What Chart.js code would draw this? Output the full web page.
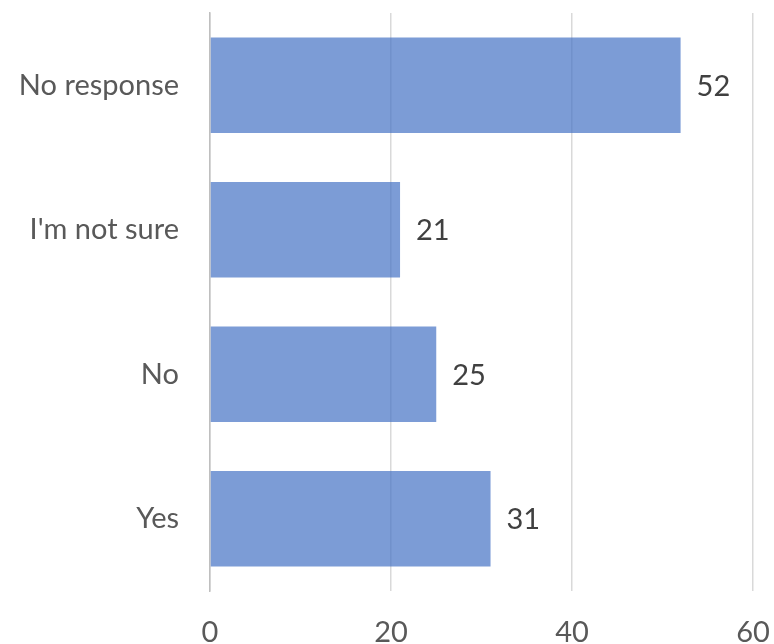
<!DOCTYPE html>
<html>
<head>
<meta charset="utf-8">
<script src="https://cdn.jsdelivr.net/npm/chart.js@4/dist/chart.umd.min.js"></script>
<style>
html,body{margin:0;padding:0;background:#fff;}
#wrap{width:774px;height:644px;position:relative;}
</style>
</head>
<body>
<div id="wrap"><canvas id="c" width="774" height="644"></canvas></div>
<script>
const categories = ["No response", "I'm not sure", "No", "Yes"];
const values = [52, 21, 25, 31];
const xTicks = [0, 20, 40, 60];

const FONT = "Lato, 'Open Sans', sans-serif";

const dataLabels = {
  id: 'dataLabels',
  afterDatasetsDraw(chart) {
    const ctx = chart.ctx;
    const meta = chart.getDatasetMeta(0);
    ctx.save();
    ctx.font = "29px " + FONT;
    ctx.fillStyle = '#404040';
    ctx.textAlign = 'left';
    ctx.textBaseline = 'middle';
    meta.data.forEach((bar, i) => {
      ctx.fillText(String(values[i]), bar.x + 16, bar.y + 1);
    });
    ctx.restore();
  }
};

new Chart(document.getElementById('c'), {
  type: 'bar',
  data: {
    labels: categories,
    datasets: [{
      data: values,
      backgroundColor: 'rgba(68,114,196,0.7)',
      borderWidth: 0,
      categoryPercentage: 1,
      barPercentage: 0.66
    }]
  },
  options: {
    indexAxis: 'y',
    responsive: false,
    animation: false,
    layout: { padding: { top: 13, right: 21, left: 0, bottom: 0 } },
    plugins: { legend: { display: false }, tooltip: { enabled: false } },
    scales: {
      x: {
        min: 0, max: 60,
        afterBuildTicks(scale) { scale.ticks = xTicks.map(v => ({ value: v })); },
        afterFit(scale) { scale.height = 53; scale.paddingLeft = 0; scale.paddingRight = 0; },
        grid: { color: '#d9d9d9', lineWidth: 1.5, drawTicks: false },
        border: { display: false },
        ticks: { font: { size: 29, family: FONT }, color: '#595959', padding: 24 }
      },
      y: {
        afterFit(scale) { scale.width = 210; scale.paddingTop = 0; scale.paddingBottom = 0; },
        grid: { display: false, drawTicks: false },
        border: { display: true, color: '#bfbfbf', width: 1.5 },
        ticks: { font: { size: 29, family: FONT }, color: '#595959', padding: 31 }
      }
    }
  },
  plugins: [dataLabels]
});
</script>
</body>
</html>
